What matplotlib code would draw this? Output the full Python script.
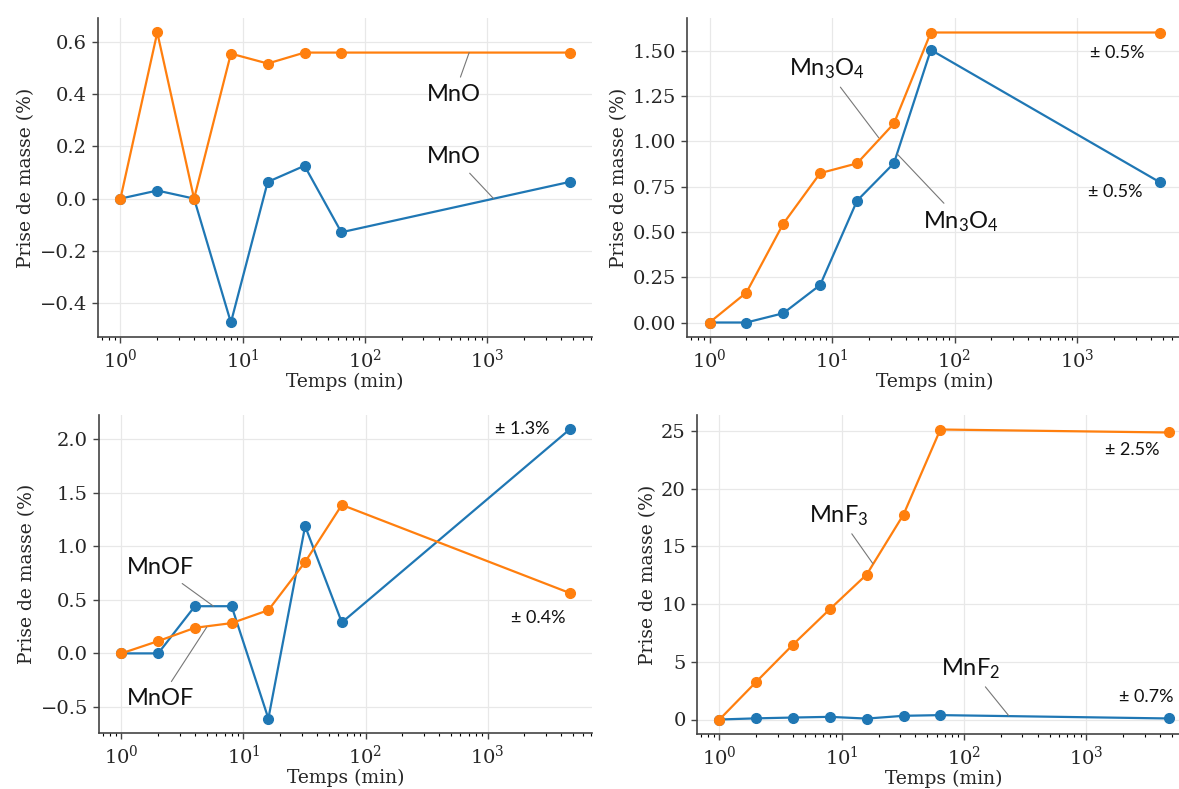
import matplotlib
matplotlib.use('Agg')
import matplotlib.pyplot as plt

plt.rcParams['font.family'] = ['DejaVu Serif']
plt.rcParams['mathtext.default'] = 'regular'

W, H = 1179, 789

# time axis (min), last point is the long hold
TIME = [1, 2, 4, 8, 16, 32, 64, 4700]

MNO_BLUE = [0, 0.031, 0, -0.475, 0.064, 0.126, -0.129, 0.064]
MNO_ORANGE = [0, 0.637, 0, 0.556, 0.518, 0.56, 0.56, 0.56]
MN3O4_BLUE = [0, 0, 0.051, 0.207, 0.672, 0.879, 1.504, 0.775]
MN3O4_ORANGE = [0, 0.165, 0.545, 0.824, 0.878, 1.098, 1.60, 1.60]
MNOF_BLUE = [0, 0, 0.441, 0.441, -0.609, 1.189, 0.289, 2.093]
MNOF_ORANGE = [0, 0.115, 0.239, 0.283, 0.404, 0.854, 1.388, 0.565]
MNF2 = [0, 0.10, 0.17, 0.23, 0.08, 0.32, 0.38, 0.09]
MNF3 = [0, 3.27, 6.50, 9.57, 12.57, 17.77, 25.14, 24.88]

# (label, text position, point on the curve)
LABELS = [
    [('MnO', (537, 0.40), (710, 0.56)), ('MnO', (537, 0.16), (1125, 0.0))],
    [('Mn$_3$O$_4$', (9.0, 1.40), (24, 1.02)), ('Mn$_3$O$_4$', (113, 0.558), (34, 0.93))],
    [('MnOF', (2.09, 0.80), (5.7, 0.44)), ('MnOF', (2.09, -0.42), (5.0, 0.245))],
    [('MnF$_3$', (9.45, 17.7), (18, 13.5)), ('MnF$_2$', (113, 4.42), (232, 0.33))],
]
ERRORS = [
    [],
    [('± 0.5%', (2130, 1.485)), ('± 0.5%', (2060, 0.718))],
    [('± 1.3%', (1920, 2.10)), ('± 0.4%', (2600, 0.332))],
    [('± 2.5%', (2370, 23.35)), ('± 0.7%', (3100, 1.97))],
]
SERIES = [(MNO_BLUE, MNO_ORANGE), (MN3O4_BLUE, MN3O4_ORANGE),
          (MNOF_BLUE, MNOF_ORANGE), (MNF2, MNF3)]

# axes boxes in pixels: left, right, top, bottom
BOXES = [(98, 592, 18, 337), (687, 1182, 18, 337),
         (99, 592, 415, 733), (697, 1191, 415, 734)]

fig = plt.figure(figsize=(W / 100, H / 100), dpi=100)
for (l, r, t, b), (blue, orange), labels, errs in zip(BOXES, SERIES, LABELS, ERRORS):
    ax = fig.add_axes([l / W, 1 - b / H, (r - l) / W, (b - t) / H])
    ax.plot(TIME, blue, 'o-', color='#1f77b4', lw=1.6, ms=7, zorder=3)
    ax.plot(TIME, orange, 'o-', color='#ff7f0e', lw=1.6, ms=7, zorder=3)
    ax.set_xscale('log')
    ax.grid(True, color='#e8e8e8', lw=0.9)
    ax.set_axisbelow(True)
    for s in ['top', 'right']:
        ax.spines[s].set_visible(False)
    for s in ['left', 'bottom']:
        ax.spines[s].set_color('#444444')
        ax.spines[s].set_linewidth(1.2)
    ax.tick_params(labelsize=14, colors='#444444', labelcolor='#262626')
    ax.tick_params(which='major', length=4.5, width=1.0)
    ax.tick_params(which='minor', length=2.5, width=0.8)
    ax.set_xlabel('Temps (min)', fontsize=13.5, color='#262626', labelpad=1)
    ax.set_ylabel('Prise de masse (%)', fontsize=13.5, color='#262626', labelpad=3)
    for txt, xyt, xy in labels:
        ax.annotate(txt, xy=xy, xytext=xyt, ha='center', va='center',
                    family='Lato', fontsize=17, color='#111111',
                    arrowprops=dict(arrowstyle='-', color='#777777', lw=0.8,
                                    shrinkA=3, shrinkB=0))
    for txt, xy in errs:
        ax.text(*xy, txt, ha='center', va='center', family='Lato',
                fontsize=13, color='#111111')

fig.savefig('out.png', dpi=100)
